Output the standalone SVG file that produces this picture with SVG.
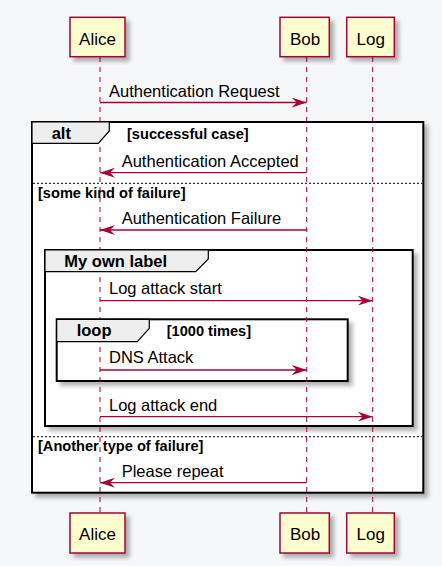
<svg xmlns="http://www.w3.org/2000/svg" width="442" height="566" viewBox="0 0 442 566">
<defs>
<filter id="sh" x="-10%" y="-10%" width="130%" height="130%">
<feDropShadow dx="4" dy="4" stdDeviation="2" flood-color="#000" flood-opacity="0.3"/>
</filter>
<marker id="ah" viewBox="0 0 15 10" refX="15" refY="5" markerWidth="15" markerHeight="10" markerUnits="userSpaceOnUse" orient="auto">
<path d="M0,0 L15,5 L0,10 L5,5 Z" fill="#A80036"/>
</marker>
<style>
.p rect{fill:#FEFECE;stroke:#A80036;stroke-width:1.5;filter:url(#sh)}
.p text{font-family:"Liberation Sans",Arial,sans-serif;font-size:17px;fill:#000;text-anchor:middle}
.life{stroke:#A80036;stroke-width:1;stroke-dasharray:5,5;fill:none}
.fr{fill:#FFFFFF;stroke:#000;stroke-width:2;filter:url(#sh)}
.tab{fill:#EEEEEE;stroke:#000;stroke-width:1.2}
.sep{stroke:#000;stroke-width:1;stroke-dasharray:2,2;fill:none}
.ttl{font-family:"Liberation Sans",Arial,sans-serif;font-size:16.5px;font-weight:bold;fill:#000}
.grd{font-family:"Liberation Sans",Arial,sans-serif;font-size:14.6px;font-weight:bold;fill:#000}
.msg line{stroke:#A80036;stroke-width:1.3;marker-end:url(#ah)}
.msg text{font-family:"Liberation Sans",Arial,sans-serif;font-size:16.5px;fill:#000}
</style>
</defs>
<rect width="442" height="566" fill="#F6F7F9"/>

<g id="frames">
<rect class="fr" x="32" y="122" width="391.3" height="370.7"/>
<rect class="fr" x="45" y="250" width="367.7" height="176"/>
<rect class="fr" x="56.7" y="319.3" width="291" height="61.7"/>
<line class="sep" x1="33" y1="183.3" x2="422.3" y2="183.3"/>
<line class="sep" x1="33" y1="436.7" x2="422.3" y2="436.7"/>
</g>

<g id="lifelines">
<line class="life" x1="100" y1="57" x2="100" y2="513"/>
<line class="life" x1="306.7" y1="57" x2="306.7" y2="513"/>
<line class="life" x1="372.7" y1="57" x2="372.7" y2="513"/>
</g>

<g id="frame-labels">
<path class="tab" d="M32,122 L109.3,122 L109.3,131 L98.3,143.3 L32,143.3 Z"/>
<text class="ttl" x="51.7" y="139">alt</text>
<text class="grd" x="127" y="139">[successful case]</text>
<text class="grd" x="38" y="198">[some kind of failure]</text>
<path class="tab" d="M45,250 L208.3,250 L208.3,259 L195.7,271.7 L45,271.7 Z"/>
<text class="ttl" x="64.3" y="266.5">My own label</text>
<path class="tab" d="M56.7,319.3 L149.3,319.3 L149.3,328.3 L137.3,341.7 L56.7,341.7 Z"/>
<text class="ttl" x="76.7" y="336">loop</text>
<text class="grd" x="166.7" y="336">[1000 times]</text>
<text class="grd" x="38" y="451">[Another type of failure]</text>
</g>

<g id="participant-alice" class="p">
<rect x="70" y="17.3" width="55" height="39.4"/>
<text x="97.5" y="45">Alice</text>
<rect x="70" y="513" width="55" height="40"/>
<text x="97.5" y="540">Alice</text>
</g>
<g id="participant-bob" class="p">
<rect x="280" y="17.3" width="49.3" height="39.4"/>
<text x="305" y="45">Bob</text>
<rect x="280" y="513" width="49.3" height="40"/>
<text x="305" y="540">Bob</text>
</g>
<g id="participant-log" class="p">
<rect x="346.7" y="17.3" width="47.6" height="39.4"/>
<text x="370.8" y="45">Log</text>
<rect x="346.7" y="513" width="47.6" height="40"/>
<text x="370.8" y="540">Log</text>
</g>

<g id="connectors" class="msg">
<line x1="100" y1="102.5" x2="306.7" y2="102.5"/>
<text x="109" y="97">Authentication Request</text>
<line x1="306.7" y1="172.7" x2="100" y2="172.7"/>
<text x="121.7" y="167.3">Authentication Accepted</text>
<line x1="306.7" y1="230" x2="100" y2="230"/>
<text x="121.7" y="224.3">Authentication Failure</text>
<line x1="100" y1="300.7" x2="372.7" y2="300.7"/>
<text x="109" y="294.3">Log attack start</text>
<line x1="100" y1="370" x2="306.7" y2="370"/>
<text x="109" y="363.3">DNS Attack</text>
<line x1="100" y1="416.7" x2="372.7" y2="416.7"/>
<text x="109" y="411">Log attack end</text>
<line x1="306.7" y1="482.7" x2="100" y2="482.7"/>
<text x="121.7" y="477.3">Please repeat</text>
</g>
</svg>
